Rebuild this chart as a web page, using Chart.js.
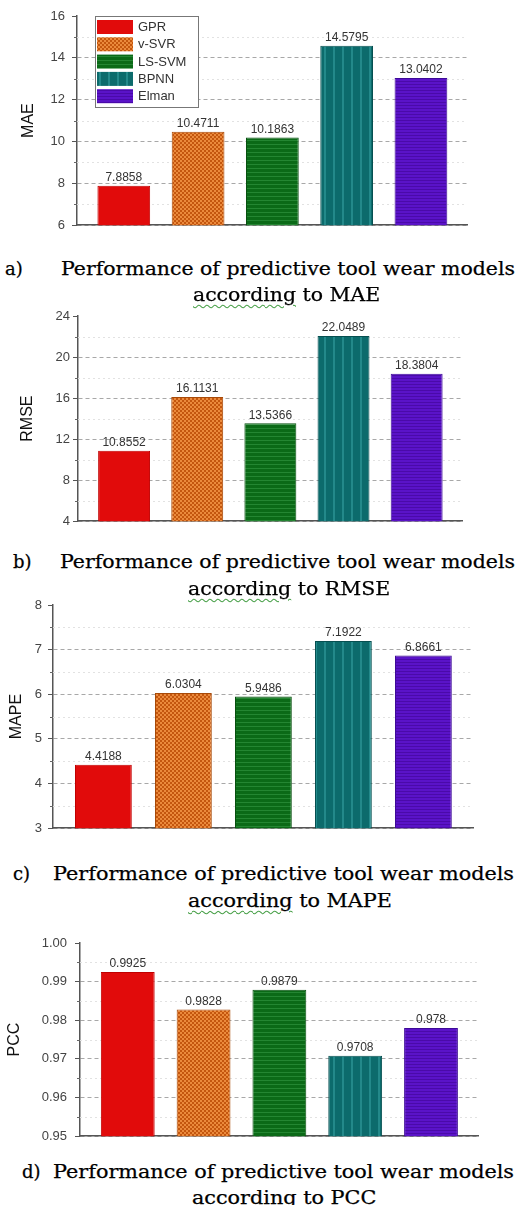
<!DOCTYPE html>
<html>
<head>
<meta charset="utf-8">
<script src="https://cdn.jsdelivr.net/npm/chart.js@4.4.1/dist/chart.umd.min.js"></script>
<style>
html,body{margin:0;padding:0;background:#fff;}
#page{position:relative;width:531px;height:1205px;overflow:hidden;background:#fff;}
canvas{position:absolute;left:0;}
.cap{position:absolute;font-family:"DejaVu Serif";font-size:18px;line-height:18px;color:#000;white-space:nowrap;transform-origin:0 0;-webkit-text-stroke:0.25px #000;}
.u{text-decoration:underline wavy #49a049;text-decoration-thickness:1px;text-underline-offset:3px;}
</style>
</head>
<body>
<div id="page">
  <canvas id="cA" width="531" height="240" style="top:0px"></canvas>
  <canvas id="cB" width="531" height="232" style="top:300px"></canvas>
  <canvas id="cC" width="531" height="252" style="top:590px"></canvas>
  <canvas id="cD" width="531" height="232" style="top:920px"></canvas>

  <div class="cap" style="left:5px;top:260px">a)</div>
  <div class="cap l1" data-w="454" data-g="a" style="left:61px;top:260px">Performance of predictive tool wear models</div>
  <div class="cap l2" data-g="a" style="left:193px;top:286px"><span class="u">according</span> to MAE</div>

  <div class="cap" style="left:13px;top:553px">b)</div>
  <div class="cap l1" data-w="455" data-g="b" style="left:60px;top:553px">Performance of predictive tool wear models</div>
  <div class="cap l2" data-g="b" style="left:188px;top:580px"><span class="u">according</span> to RMSE</div>

  <div class="cap" style="left:13px;top:865px">c)</div>
  <div class="cap l1" data-w="461" data-g="c" style="left:53px;top:865px">Performance of predictive tool wear models</div>
  <div class="cap l2" data-g="c" style="left:188px;top:892px"><span class="u">according</span> to MAPE</div>

  <div class="cap" style="left:22px;top:1163px">d)</div>
  <div class="cap l1" data-w="461" data-g="d" style="left:53px;top:1163px">Performance of predictive tool wear models</div>
  <div class="cap l2" data-g="d" style="left:192px;top:1189px"><span class="u">according</span> to PCC</div>
</div>
<script>
// ---- data ----
const models = ['GPR', 'v-SVR', 'LS-SVM', 'BPNN', 'Elman'];
const maeValues  = [7.8858, 10.4711, 10.1863, 14.5795, 13.0402];
const rmseValues = [10.8552, 16.1131, 13.5366, 22.0489, 18.3804];
const mapeValues = [4.4188, 6.0304, 5.9486, 7.1922, 6.8661];
const pccValues  = [0.9925, 0.9828, 0.9879, 0.9708, 0.978];
const maeTicks  = [6, 8, 10, 12, 14, 16];
const rmseTicks = [4, 8, 12, 16, 20, 24];
const mapeTicks = [3, 4, 5, 6, 7, 8];
const pccTicks  = [0.95, 0.96, 0.97, 0.98, 0.99, 1.00];
const metricNames = ['MAE', 'RMSE', 'MAPE', 'PCC'];

// ---- fills ----
function pat(base, fg, w, h, draw) {
  const c = document.createElement('canvas');
  c.width = w; c.height = h;
  const x = c.getContext('2d');
  x.fillStyle = base; x.fillRect(0, 0, w, h);
  x.fillStyle = fg; draw(x);
  return x.createPattern(c, 'repeat');
}
const fills = [
  '#e10b0b',
  pat('#c4560e', '#eb8a3c', 4, 4, x => { x.fillRect(0, 0, 2, 2); x.fillRect(2, 2, 2, 2); }),
  pat('#0b6a17', '#248632', 4, 4, x => { x.fillRect(0, 0, 4, 1); }),
  pat('#0c6b6c', '#23898a', 9, 2, x => { x.fillRect(0, 0, 2, 2); }),
  pat('#5a13c8', '#4a0aa9', 4, 3, x => { x.fillRect(0, 0, 4, 1); })
];
const edges = ['#c00000', '#a84a08', '#07500f', '#064f50', '#3d0a98'];

// ---- plugins ----
const valueLabels = {
  id: 'valueLabels',
  afterDatasetsDraw(chart) {
    const ctx = chart.ctx;
    ctx.save();
    ctx.font = '12px "Liberation Sans"';
    ctx.fillStyle = '#333';
    ctx.textAlign = 'center';
    ctx.textBaseline = 'bottom';
    chart.data.datasets.forEach((ds, i) => {
      const el = chart.getDatasetMeta(i).data[0];
      ctx.fillText(String(ds.data[0].y), el.x, el.y - 2);
    });
    ctx.restore();
  }
};
const minorTicks = {
  id: 'minorTicks',
  beforeDatasetsDraw(chart) {
    const s = chart.scales.y, ctx = chart.ctx, t = s.ticks, a = chart.chartArea;
    ctx.save();
    for (let i = 0; i < t.length - 1; i++) {
      const y = Math.round(s.getPixelForValue((t[i].value + t[i + 1].value) / 2)) + 0.5;
      ctx.strokeStyle = '#e2e2e2'; ctx.lineWidth = 1; ctx.setLineDash([2, 3]);
      ctx.beginPath(); ctx.moveTo(a.left, y); ctx.lineTo(a.right, y); ctx.stroke();
      ctx.setLineDash([]);
      ctx.strokeStyle = '#666';
      ctx.beginPath(); ctx.moveTo(s.right - 3, y); ctx.lineTo(s.right, y); ctx.stroke();
    }
    ctx.restore();
  }
};
const boxLegend = {
  id: 'boxLegend',
  afterDraw(chart) {
    const ctx = chart.ctx, a = chart.chartArea;
    const L = a.left + 18, T = a.top, W = 103, H = 91;
    ctx.save();
    ctx.fillStyle = '#fff'; ctx.fillRect(L, T, W, H);
    ctx.strokeStyle = '#777'; ctx.lineWidth = 1;
    ctx.strokeRect(L + 0.5, T + 0.5, W, H);
    ctx.font = '13px "Liberation Sans"';
    ctx.textBaseline = 'middle'; ctx.textAlign = 'left';
    chart.data.datasets.forEach((ds, i) => {
      const y = T + 4 + i * 17.3;
      ctx.fillStyle = ds.backgroundColor; ctx.fillRect(L + 2, y, 36, 14);
      ctx.fillStyle = '#333'; ctx.fillText(ds.label, L + 43, y + 7.5);
    });
    ctx.restore();
  }
};

// ---- layout (not data) ----
const layouts = [
  {id: 'cA', pad: {top: 16, bottom: 11, left: 0, right: 64}, yW: 77, titleX: 29, tickPad: 7, legend: true},
  {id: 'cB', pad: {top: 16, bottom: 9, left: 0, right: 69}, yW: 78, titleX: 28, tickPad: 3},
  {id: 'cC', pad: {top: 15, bottom: 9, left: 0, right: 58}, yW: 53, titleX: 17, tickPad: 6},
  {id: 'cD', pad: {top: 23, bottom: 10, left: 0, right: 53}, yW: 80, titleX: 15, tickPad: 8}
];
const valueSets = [maeValues, rmseValues, mapeValues, pccValues];
const tickSets = [maeTicks, rmseTicks, mapeTicks, pccTicks];

layouts.forEach((lay, k) => {
  const vals = valueSets[k], tks = tickSets[k];
  const datasets = models.map((m, i) => ({
    label: m,
    data: [{x: i, y: vals[i]}],
    backgroundColor: fills[i],
    borderColor: edges[i],
    borderWidth: 1,
    grouped: false,
    barPercentage: 0.71,
    categoryPercentage: 1
  }));
  const plugins = [minorTicks, valueLabels];
  if (lay.legend) plugins.push(boxLegend);
  new Chart(document.getElementById(lay.id), {
    type: 'bar',
    data: {datasets},
    plugins,
    options: {
      responsive: false,
      animation: false,
      devicePixelRatio: 1,
      layout: {padding: lay.pad},
      plugins: {legend: {display: false}, tooltip: {enabled: false}},
      scales: {
        x: {
          type: 'linear', min: -0.63, max: 4.62, offset: false,
          afterBuildTicks: s => { s.ticks = models.map((_, i) => ({value: i})); },
          ticks: {display: false},
          grid: {display: false, drawTicks: false, offset: false},
          border: {display: true, color: '#555', width: 1.5}
        },
        y: {
          min: tks[0], max: tks[tks.length - 1],
          afterBuildTicks: s => { s.ticks = tks.map(v => ({value: v})); },
          afterFit: s => { s.width = lay.yW; },
          ticks: {
            color: '#444',
            font: {family: 'Liberation Sans', size: 13},
            padding: lay.tickPad,
            callback: v => (k === 3 ? Number(v).toFixed(2) : String(v))
          },
          grid: {
            color: c => (c.index === tks.length - 1 ? 'rgba(0,0,0,0)' : '#a8a8a8'),
            tickColor: '#555', tickLength: 5, lineWidth: 1
          },
          border: {display: true, color: '#555', width: 1.5, dash: [4, 3]},
          title: {
            display: true, text: metricNames[k], color: '#111',
            font: {family: 'Liberation Sans', size: 16},
            padding: {top: lay.titleX - 9.6, bottom: 0}
          }
        }
      }
    }
  });
});

// ---- caption width fitting ----
document.querySelectorAll('.l1').forEach(el => {
  const s = Number(el.dataset.w) / el.offsetWidth;
  el.style.transform = 'scaleX(' + s + ')';
  const l2 = document.querySelector('.l2[data-g="' + el.dataset.g + '"]');
  l2.style.transform = 'scaleX(' + s + ')';
});
</script>
</body>
</html>
